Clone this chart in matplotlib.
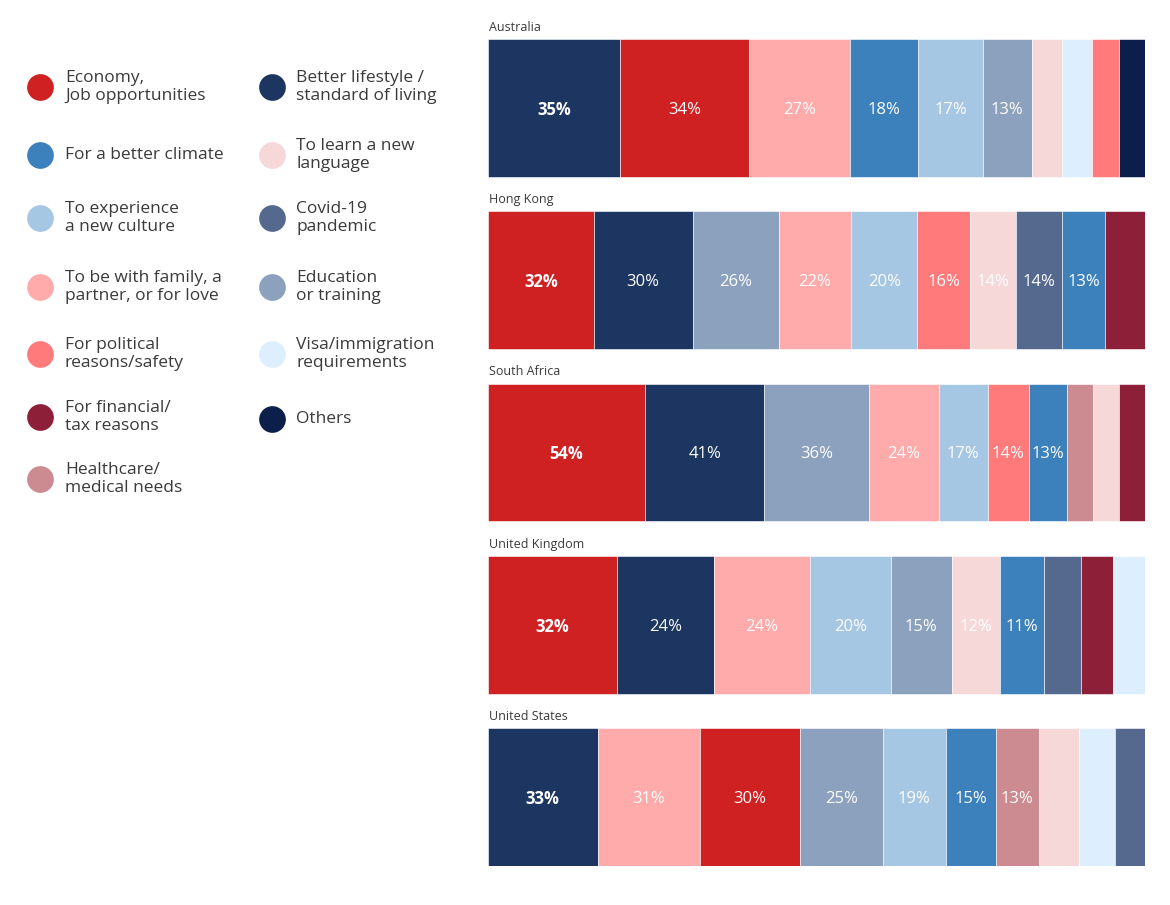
import matplotlib.pyplot as plt

# reasons -> colour
reason_colors = {
    "Economy": "#CF2022",
    "Lifestyle": "#1C3661",
    "Climate": "#3D81BC",
    "Language": "#F6D8D9",
    "Culture": "#A6C7E4",
    "Covid": "#55698F",
    "Family": "#FFABAB",
    "Education": "#8BA1BD",
    "Political": "#FF7B7B",
    "Visa": "#DDEFFE",
    "Financial": "#8D1F38",
    "Others": "#0C1F4A",
    "Healthcare": "#CC8A91",
}

left_legend = ["Economy", "Climate", "Culture", "Family", "Political", "Financial", "Healthcare"]
left_labels = [
    "Economy,\nJob opportunities",
    "For a better climate",
    "To experience\na new culture",
    "To be with family, a\npartner, or for love",
    "For political\nreasons/safety",
    "For financial/\ntax reasons",
    "Healthcare/\nmedical needs",
]
right_legend = ["Lifestyle", "Language", "Covid", "Education", "Visa", "Others"]
right_labels = [
    "Better lifestyle /\nstandard of living",
    "To learn a new\nlanguage",
    "Covid-19\npandemic",
    "Education\nor training",
    "Visa/immigration\nrequirements",
    "Others",
]

countries = ["Australia", "Hong Kong", "South Africa", "United Kingdom", "United States"]

au_reasons = ["Lifestyle", "Economy", "Family", "Climate", "Culture", "Education", "Language", "Visa", "Political", "Others"]
au_values = [35, 34, 27, 18, 17, 13, 8, 8, 7, 7]
hk_reasons = ["Economy", "Lifestyle", "Education", "Family", "Culture", "Political", "Language", "Covid", "Climate", "Financial"]
hk_values = [32, 30, 26, 22, 20, 16, 14, 14, 13, 12]
sa_reasons = ["Economy", "Lifestyle", "Education", "Family", "Culture", "Political", "Climate", "Healthcare", "Language", "Financial"]
sa_values = [54, 41, 36, 24, 17, 14, 13, 9, 9, 9]
uk_reasons = ["Economy", "Lifestyle", "Family", "Culture", "Education", "Language", "Climate", "Covid", "Financial", "Visa"]
uk_values = [32, 24, 24, 20, 15, 12, 11, 9, 8, 8]
us_reasons = ["Lifestyle", "Family", "Economy", "Education", "Culture", "Climate", "Healthcare", "Language", "Visa", "Covid"]
us_values = [33, 31, 30, 25, 19, 15, 13, 12, 11, 9]

# how many segments carry a % label, per country
labeled_counts = [6, 9, 7, 7, 7]

all_reasons = [au_reasons, hk_reasons, sa_reasons, uk_reasons, us_reasons]
all_values = [au_values, hk_values, sa_values, uk_values, us_values]

plt.rcParams["font.family"] = ["Open Sans", "DejaVu Sans"]
text_color = "#3a3a3a"

W, H = 1170, 905
fig = plt.figure(figsize=(W / 100, H / 100), dpi=100)

# bars
ax = fig.add_axes([488 / W, 1 - 866 / H, (1145 - 488) / W, (866 - 39) / H])
bar_h = 0.8
for i, (country, reasons, values) in enumerate(zip(countries, all_reasons, all_values)):
    total = sum(values)
    left = 0.0
    for j, (r, v) in enumerate(zip(reasons, values)):
        w = v / total
        ax.barh(i, w, left=left, height=bar_h, color=reason_colors[r],
                edgecolor="white", linewidth=0.4)
        if j < labeled_counts[i]:
            ax.text(left + w / 2, i + 0.01, f"{v}%", ha="center", va="center",
                    color="white", fontsize=12,
                    fontweight="bold" if j == 0 else "normal")
        left += w
    ax.text(0.002, i - bar_h / 2 - 0.03, country, ha="left", va="bottom",
            fontsize=9, color=text_color)

ax.set_xlim(0, 1)
ax.set_ylim(4 + bar_h / 2, -bar_h / 2)
ax.axis("off")

# legend drawn in pixel coordinates
lg = fig.add_axes([0, 0, 1, 1], zorder=-1)
lg.set_xlim(0, W)
lg.set_ylim(H, 0)
lg.axis("off")

left_y = [87, 155, 218, 287, 354, 417, 479]
right_y = [87, 155, 218, 287, 354, 419]
for keys, labels, ys, cx, tx in [
    (left_legend, left_labels, left_y, 40, 65),
    (right_legend, right_labels, right_y, 272, 296),
]:
    for k, lab, y in zip(keys, labels, ys):
        lg.scatter(cx, y, s=370, color=reason_colors[k], linewidths=0)
        lg.text(tx, y, lab, ha="left", va="center", fontsize=12.5,
                color=text_color, linespacing=1.15)

fig.savefig("out.png", dpi=100, facecolor="white")
